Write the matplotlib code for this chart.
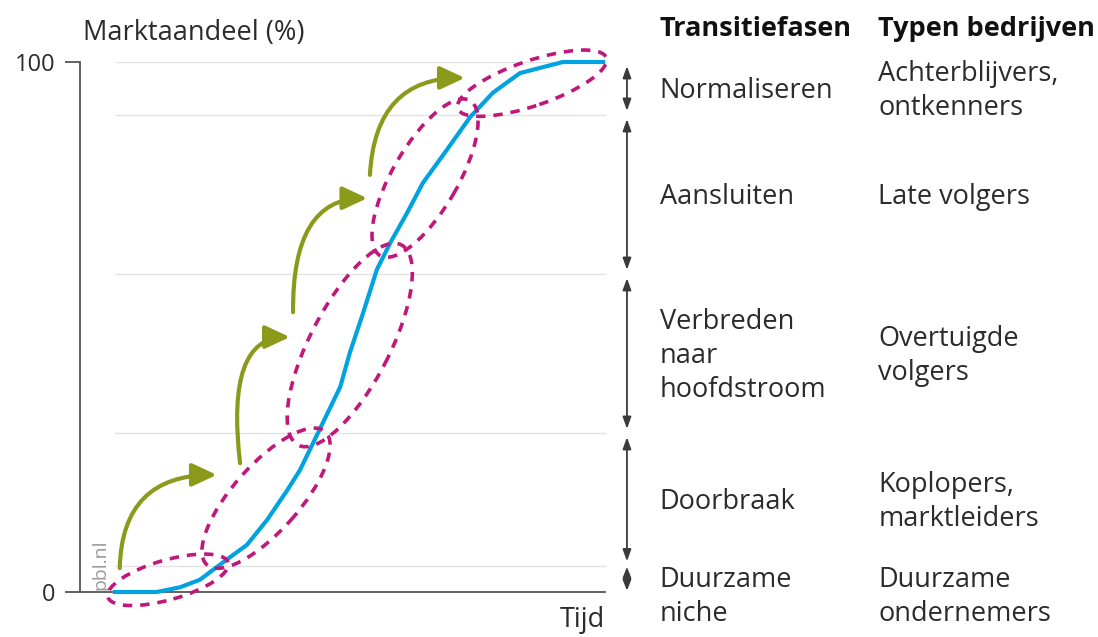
import numpy as np
import matplotlib
matplotlib.use("Agg")
import matplotlib.pyplot as plt
from matplotlib.patches import Ellipse, FancyArrowPatch
from matplotlib.path import Path

plt.rcParams['font.family'] = ['Open Sans', 'DejaVu Sans']

# --- data ---
tijd = [6.6, 14.5, 18.9, 22.6, 25.8, 28.9, 31.5, 35.3, 39.1, 41.5, 44.7, 49.1,
        50.9, 53.4, 56.0, 58.5, 61.7, 64.7, 69.2, 73.6, 77.9, 83.0, 91.1, 98.7]
marktaandeel = [0, 0, 0.9, 2.3, 4.7, 7.0, 8.9, 13.6, 19.2, 23.0, 29.6, 38.7,
                45.1, 52.6, 60.8, 65.8, 71.5, 77.2, 83.4, 89.6, 94.2, 97.9, 100, 100]

grens = [0, 5, 30, 60, 90, 100]          # phase boundaries (% market share)
fasen = ['Duurzame\nniche', 'Doorbraak', 'Verbreden\nnaar\nhoofdstroom',
         'Aansluiten', 'Normaliseren']
bedrijven = ['Duurzame\nondernemers', 'Koplopers,\nmarktleiders',
             'Overtuigde\nvolgers', 'Late volgers', 'Achterblijvers,\nontkenners']
label_y = [-1.0, 17.0, 44.5, 74.5, 94.5]

# dashed loops around each phase: centre x, centre y, length, width, angle
lus_x = [16.6, 35.1, 50.9, 65.1, 85.3]
lus_y = [2.3, 17.7, 46.6, 78.1, 96.0]
lus_len = [23.6, 33.6, 42.5, 33.8, 29.6]
lus_wid = [7.5, 12.5, 15.0, 12.3, 8.5]
lus_hoek = [16, 48.4, 62.7, 59.9, 18.9]

# green arrows: start, bend, tip
pijl_start = [(7.5, 4.5), (30.2, 24.3), (40.2, 52.8), (54.7, 78.7)]
pijl_knik = [(7.9, 22.1), (27.4, 48.1), (40.0, 74.3), (55.7, 97.0)]
pijl_eind = [(25.8, 22.1), (39.6, 48.1), (54.2, 74.3), (72.6, 97.0)]

BLAUW = '#00a3df'
MAGENTA = '#c0177a'
GROEN = '#8b9a1b'
TEKST = '#2b2b2b'
AS = '#555555'

fig = plt.figure(figsize=(10.98, 6.37), dpi=100)
ax = fig.add_axes([80 / 1098, 45 / 637, 530 / 1098, 530 / 637])
ax.set_xlim(0, 100)
ax.set_ylim(0, 100)

for g in grens[1:]:
    ax.plot([6.6, 99], [g, g], color='#e3e3e3', lw=1, zorder=1)

ax.plot(tijd, marktaandeel, color=BLAUW, lw=3, zorder=3, clip_on=False)

for cx, cy, l, w, a in zip(lus_x, lus_y, lus_len, lus_wid, lus_hoek):
    e = Ellipse((cx, cy), l, w, angle=a, fill=False, edgecolor=MAGENTA,
                lw=2.6, linestyle=(0, (2.6, 2.2)), zorder=4, clip_on=False)
    ax.add_patch(e)

for s, k, t in zip(pijl_start, pijl_knik, pijl_eind):
    p = Path([s, k, t], [Path.MOVETO, Path.CURVE3, Path.CURVE3])
    arr = FancyArrowPatch(path=p, arrowstyle='-|>,head_length=0.75,head_width=0.35',
                          mutation_scale=20, color=GROEN, lw=3, zorder=5,
                          clip_on=False)
    ax.add_patch(arr)

# axes styling
for side in ['top', 'right']:
    ax.spines[side].set_visible(False)
ax.spines['left'].set_color(AS)
ax.spines['bottom'].set_color(AS)
ax.spines['left'].set_linewidth(1.3)
ax.spines['bottom'].set_linewidth(1.3)
ax.spines['bottom'].set_bounds(0, 99)
ax.set_xticks([])
ax.set_yticks([0, 100])
ax.set_yticklabels(['0', '100'])
ax.tick_params(axis='y', length=11, width=1.3, color=AS, pad=7,
               labelsize=17, labelcolor=TEKST)

fig.text(83 / 1098, 1 - 33 / 637, 'Marktaandeel (%)', fontsize=19.5,
         color=TEKST, va='center', ha='left')
ax.text(99, -5.3, 'Tijd', fontsize=19.5, color=TEKST, ha='right', va='center',
        clip_on=False)
ax.text(3.8, 0.4, 'pbl.nl', fontsize=14, color='#9a9a9a', rotation=90,
        ha='center', va='bottom', clip_on=False)

# phase arrows and labels on the right
x_pijl = 103.2
for lo, hi in zip(grens[:-1], grens[1:]):
    klein = (hi - lo) < 10
    ax.annotate('', xy=(x_pijl, hi), xytext=(x_pijl, lo),
                arrowprops=dict(arrowstyle='<|-|>,head_length=%s,head_width=0.18'
                                % (0.45 if klein else 0.5),
                                color='#3a3a3a', lw=1.3,
                                shrinkA=1 if klein else 3,
                                shrinkB=1 if klein else 3,
                                mutation_scale=14),
                annotation_clip=False)

ax.text(109.4, 106.3, 'Transitiefasen', fontsize=19.5, fontweight='bold',
        color='#111111', ha='left', va='center', clip_on=False)
ax.text(150.6, 106.3, 'Typen bedrijven', fontsize=19.5, fontweight='bold',
        color='#111111', ha='left', va='center', clip_on=False)
for f, b, y in zip(fasen, bedrijven, label_y):
    ax.text(109.4, y, f, fontsize=19.5, color=TEKST, ha='left', va='center',
            linespacing=1.3, clip_on=False)
    ax.text(150.6, y, b, fontsize=19.5, color=TEKST, ha='left', va='center',
            linespacing=1.3, clip_on=False)

fig.savefig('out.png', dpi=100)
